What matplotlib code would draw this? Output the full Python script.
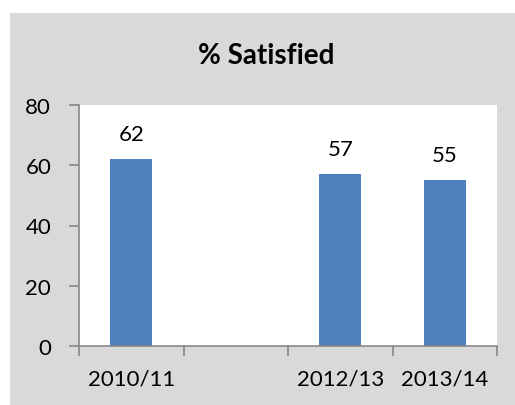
import matplotlib.pyplot as plt
import matplotlib.patches as mpatches

# DATOS
categorias = ["2010/11", "2011/12", "2012/13", "2013/14"]
etiquetas_x = ["2010/11", "", "2012/13", "2013/14"]
valores = [62, None, 57, 55]
ticks_y = [0, 20, 40, 60, 80]

plt.rcParams['font.family'] = ['Lato', 'DejaVu Sans']

fig = plt.figure(figsize=(5.15, 4.06), dpi=100)
fig.patch.set_facecolor("white")

# FONDO GRIS DEL GRAFICO
fondo = mpatches.Rectangle((10 / 515, 0), 505 / 515, 392 / 406,
                           transform=fig.transFigure, facecolor="#d9d9d9",
                           edgecolor="none", zorder=-10)
fig.add_artist(fondo)

ax = fig.add_axes([79 / 515, 1 - 347 / 406, 418 / 515, 241 / 406])
ax.set_facecolor("white")

posiciones = list(range(len(categorias)))
for x, v in zip(posiciones, valores):
    if v is None:
        continue
    ax.bar(x, v, width=0.4, color="#4f81bd", zorder=2)
    ax.text(x, v + 5, str(v), ha="center", va="bottom", fontsize=16)

ax.set_xlim(-0.5, len(categorias) - 0.5)
ax.set_ylim(0, 80)
ax.set_yticks(ticks_y)
ax.set_yticklabels([str(t) for t in ticks_y], fontsize=16)

# TICKS ENTRE CATEGORIAS
ax.set_xticks([p - 0.5 for p in posiciones] + [len(categorias) - 0.5])
ax.set_xticklabels([])
ax.set_xticks(posiciones, minor=True)
ax.set_xticklabels(etiquetas_x, minor=True, fontsize=16)
ax.tick_params(axis="x", which="minor", length=0, pad=16)
ax.tick_params(axis="x", which="major", length=7, color="#878787", width=1.2)
ax.tick_params(axis="y", length=7, color="#878787", width=1.2, pad=13)

for lado in ["top", "right"]:
    ax.spines[lado].set_visible(False)
for lado in ["left", "bottom"]:
    ax.spines[lado].set_color("#878787")
    ax.spines[lado].set_linewidth(1.2)

fig.text(266 / 515, 1 - 56 / 406, "% Satisfied", ha="center", va="center",
         fontsize=20, fontweight="bold")

fig.savefig("out.png", dpi=100)
